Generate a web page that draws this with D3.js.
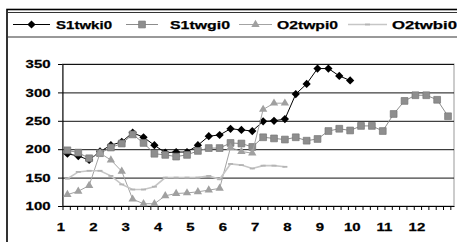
<!DOCTYPE html>
<html>
<head>
<meta charset="utf-8">
<script src="https://cdn.jsdelivr.net/npm/d3@7"></script>
<style>
body { margin: 0; background: #fff; }
svg text { font-family: "Liberation Sans", Arial, sans-serif; font-weight: bold; font-size: 11.5px; fill: #000; stroke: #000; stroke-width: 0.25px; }
.ylab text { transform-box: fill-box; transform-origin: right center; transform: scaleX(1.3); }
.xlab text { transform-box: fill-box; transform-origin: center; transform: scaleX(1.3); }
</style>
</head>
<body>
<div id="chart"></div>
<script>
// valeurs (3 points par mois)
var monthLabels = [1, 2, 3, 4, 5, 6, 7, 8, 9, 10, 11, 12];
var yTicks = [100, 150, 200, 250, 300, 350];

var s1twki0 = [192, 188, 181, 196, 207, 213, 229, 221, 207, 194, 195, 195, 207, 223, 225, 236, 234, 232, 249, 250, 253, 297, 315, 342, 342, 329, 321];
var s1twgi0 = [198, 194, 184, 193, 203, 210, 226, 211, 192, 190, 187, 190, 197, 202, 202, 211, 210, 204, 221, 219, 217, 221, 215, 218, 232, 236, 233, 241, 241, 232, 262, 285, 295, 295, 287, 258];
var o2twpi0 = [120, 126, 136, 193, 181, 161, 112, 104, 104, 118, 122, 123, 125, 128, 131, 203, 196, 193, 270, 281, 281];
var o2twbi0 = [148, 160, 162, 162, 153, 138, 129, 129, 134, 150, 150, 150, 150, 153, 147, 174, 172, 166, 171, 171, 169];

var series = [
    { name: "S1twki0", values: s1twki0, color: "#000", width: 1, marker: "diamond", fill: "#000" },
    { name: "S1twgi0", values: s1twgi0, color: "#8c8c8c", width: 1, marker: "square", fill: "#8e8e8e" },
    { name: "O2twpi0", values: o2twpi0, color: "#a3a3a3", width: 1, marker: "triangle", fill: "#a0a0a0" },
    { name: "O2twbi0", values: o2twbi0, color: "#c6c6c6", width: 1.6, marker: "dash", fill: "#b4b4b4" }
];

var width = 457, height = 242;
var plot = { left: 62.5, right: 454, top: 64, bottom: 206 };

var svg = d3.select("#chart")
    .append("svg")
    .attr("width", width)
    .attr("height", height);

var x = d3.scaleLinear()
    .domain([0, 36])
    .range([plot.left, plot.right]);

var y = d3.scaleLinear()
    .domain([100, 350])
    .range([plot.bottom, plot.top]);

// cadre du graphique + boite de legende
svg.append("rect")
    .attr("x", 7).attr("y", 9.5)
    .attr("width", 470).attr("height", 260)
    .attr("fill", "none").attr("stroke", "#000").attr("stroke-width", 1.6);

svg.append("rect")
    .attr("x", 7.5).attr("y", 12.5)
    .attr("width", 470).attr("height", 24.5)
    .attr("fill", "none").attr("stroke", "#333").attr("stroke-width", 1);

// bord de la zone de tracage
svg.append("rect")
    .attr("x", plot.left).attr("y", plot.top)
    .attr("width", plot.right - plot.left).attr("height", plot.bottom - plot.top)
    .attr("fill", "none").attr("stroke", "#999");

// quadrillage
var grid = svg.append("g")
    .attr("transform", "translate(" + plot.left + ",0)")
    .call(d3.axisLeft(y).tickValues(yTicks).tickSize(-(plot.right - plot.left)).tickFormat(""));
grid.select(".domain").remove();
grid.selectAll("line").attr("stroke", "#111");

// axe Y
var yAxis = svg.append("g")
    .attr("class", "ylab")
    .attr("transform", "translate(" + plot.left + ",0)")
    .call(d3.axisLeft(y).tickValues(yTicks).tickSize(4.5).tickSizeOuter(0).tickPadding(7.5));
yAxis.select(".domain").attr("stroke", "#000");

// petites graduations de l'axe X
var minorTicks = d3.range(54).map(function(k) { return k * 36 / 53.5; });
svg.append("g")
    .attr("transform", "translate(0," + plot.bottom + ")")
    .call(d3.axisBottom(x).tickValues(minorTicks).tickSize(4).tickSizeOuter(0).tickFormat(""))
    .select(".domain").attr("stroke", "#000");

// etiquettes des mois
var xLab = svg.append("g")
    .attr("class", "xlab")
    .attr("transform", "translate(0," + plot.bottom + ")")
    .call(d3.axisBottom(x)
        .tickValues(monthLabels.map(function(m) { return (m - 1) * 2.975 - 0.18; }))
        .tickFormat(function(d, i) { return monthLabels[i]; })
        .tickSize(0).tickPadding(16.5));
xLab.select(".domain").remove();

// marqueurs
function drawMarker(g, type, fill) {
    if (type === "diamond") {
        g.append("path").attr("d", d3.symbol(d3.symbolSquare, 34)()).attr("transform", "rotate(45)").attr("fill", fill);
    } else if (type === "square") {
        g.append("path").attr("d", d3.symbol(d3.symbolSquare, 46)()).attr("fill", fill).attr("stroke", "#777").attr("stroke-width", 0.7);
    } else if (type === "triangle") {
        g.append("path").attr("d", d3.symbol(d3.symbolTriangle, 30)()).attr("fill", fill);
    } else {
        g.append("rect").attr("x", -2.5).attr("y", -0.9).attr("width", 5).attr("height", 1.8).attr("fill", fill);
    }
}

var line = d3.line()
    .x(function(d, i) { return x(i + 0.45); })
    .y(function(d) { return y(d); });

series.forEach(function(s) {
    var g = svg.append("g");
    g.append("path")
        .datum(s.values)
        .attr("d", line)
        .attr("fill", "none")
        .attr("stroke", s.color)
        .attr("stroke-width", s.width);
    g.selectAll(".pt")
        .data(s.values)
        .enter().append("g")
        .attr("transform", function(d, i) { return "translate(" + x(i + 0.45) + "," + y(d) + ")"; })
        .each(function() { drawMarker(d3.select(this), s.marker, s.fill); });
});

// legende
var legendPos = [
    { x1: 13, x2: 50, tx: 56, tw: 56 },
    { x1: 126, x2: 158, tx: 170, tw: 60 },
    { x1: 239, x2: 272, tx: 277, tw: 61 },
    { x1: 348, x2: 387, tx: 392, tw: 65 }
];
var legendY = 24.5;
series.forEach(function(s, i) {
    var p = legendPos[i];
    var g = svg.append("g");
    g.append("line")
        .attr("x1", p.x1).attr("x2", p.x2)
        .attr("y1", legendY).attr("y2", legendY)
        .attr("stroke", s.color).attr("stroke-width", s.width);
    var m = g.append("g").attr("transform", "translate(" + (p.x1 + p.x2) / 2 + "," + legendY + ")");
    drawMarker(m, s.marker, s.fill);
    g.append("text")
        .attr("x", p.tx).attr("y", legendY + 4)
        .attr("textLength", p.tw)
        .attr("lengthAdjust", "spacingAndGlyphs")
        .text(s.name);
});
</script>
</body>
</html>
